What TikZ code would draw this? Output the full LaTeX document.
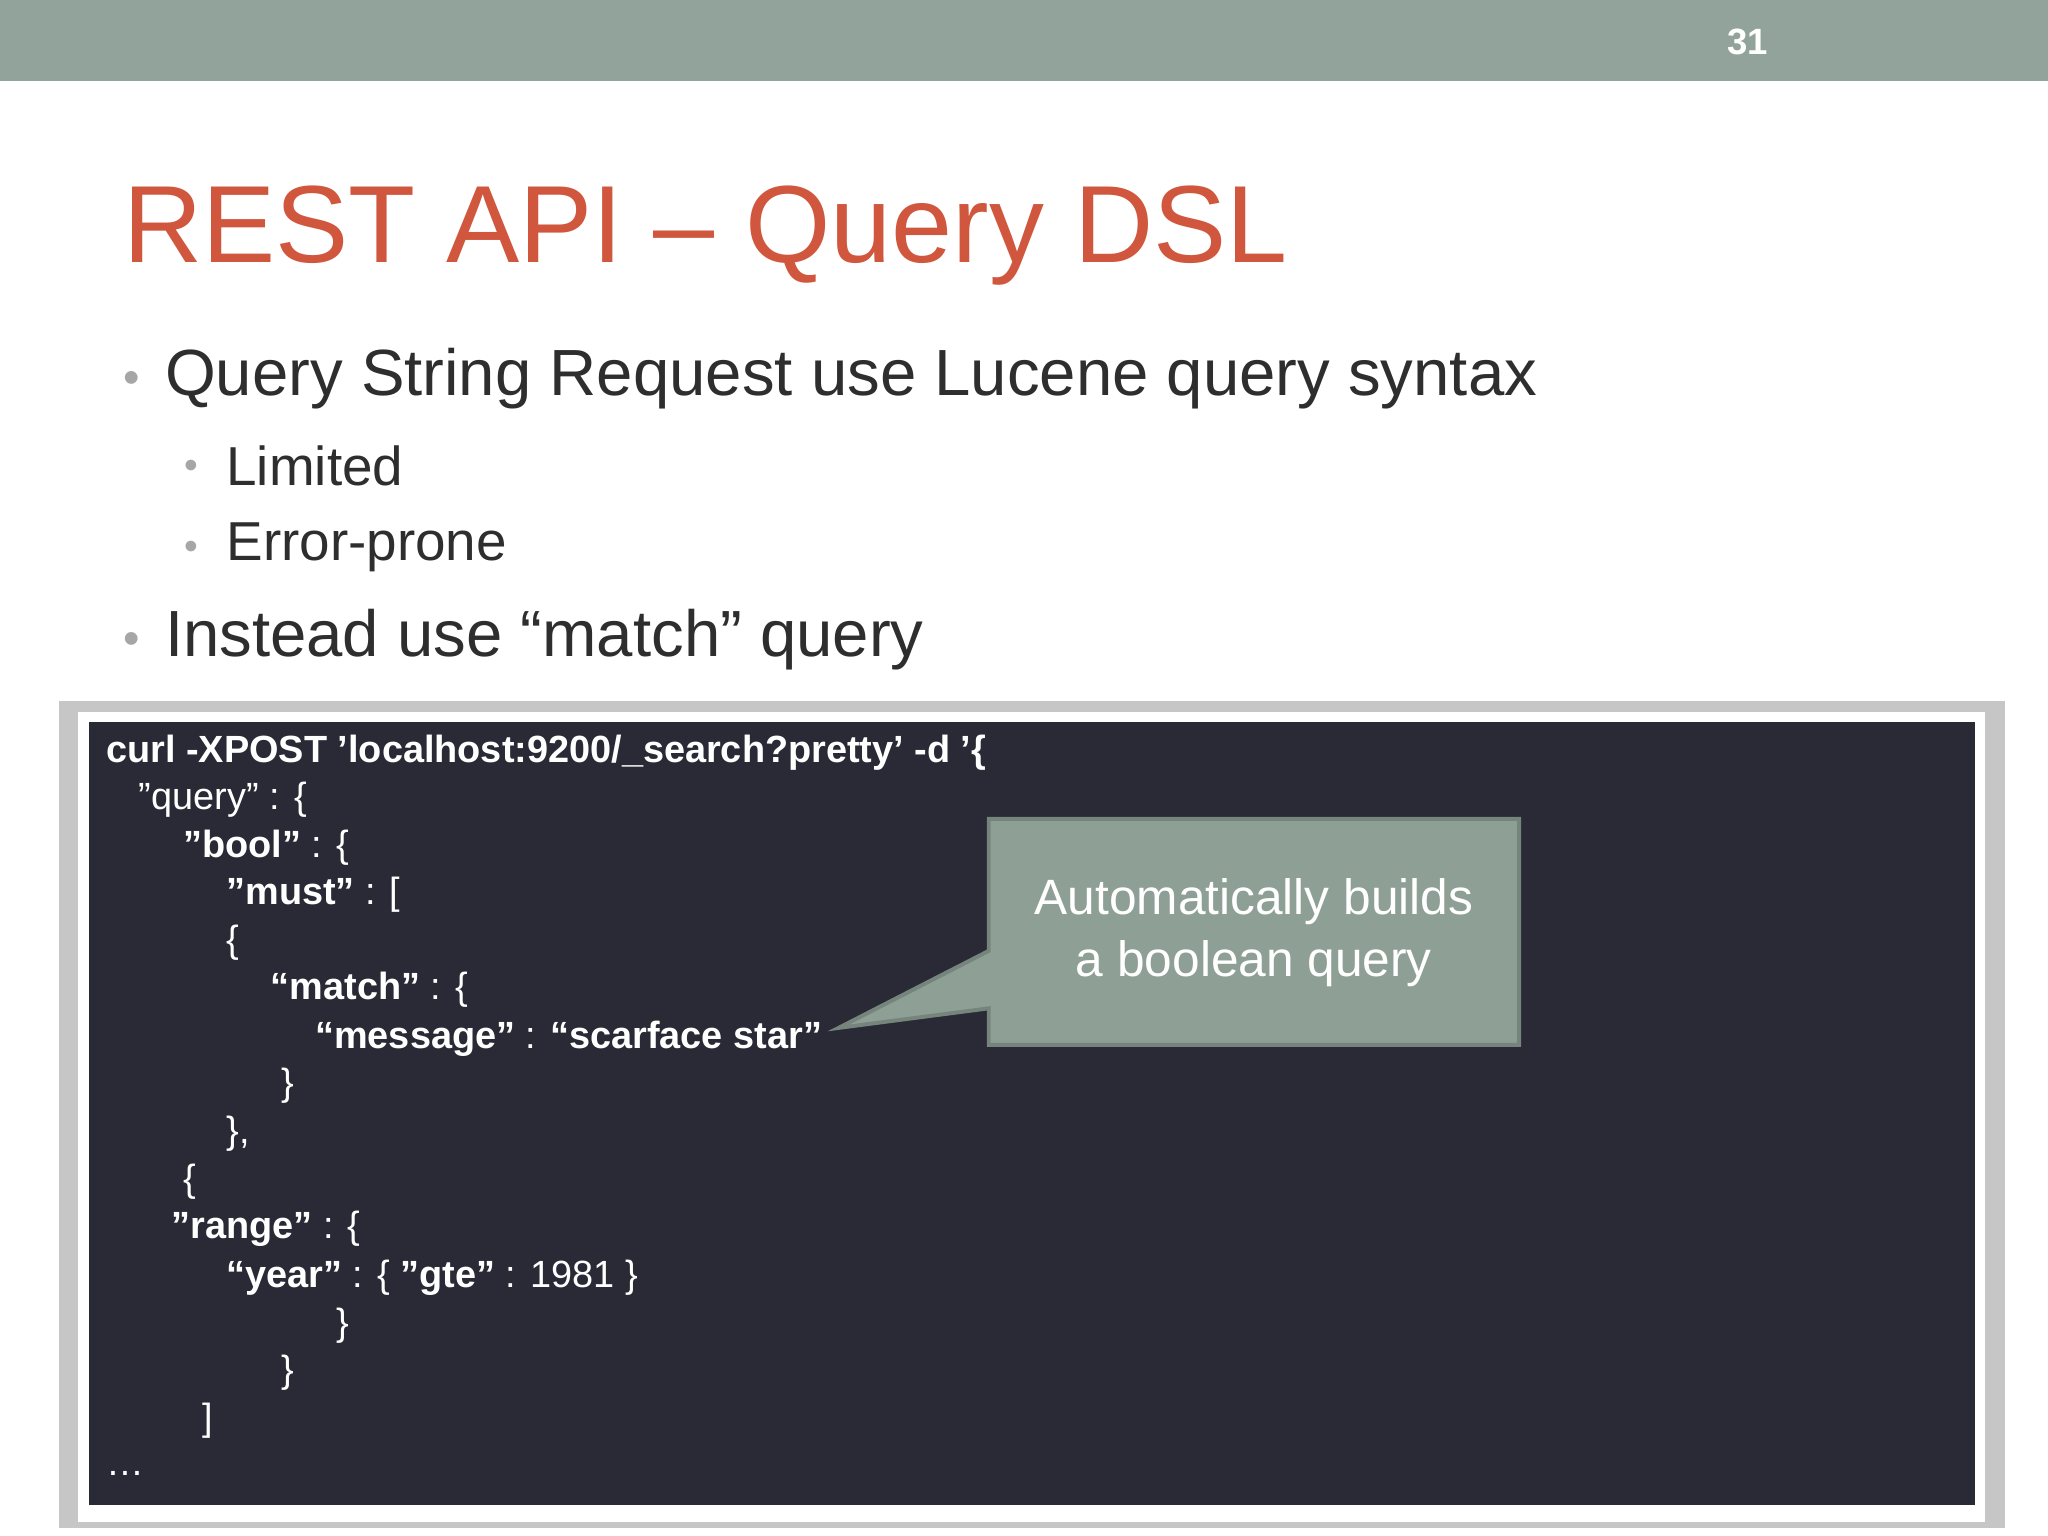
\documentclass[tikz,border=0pt]{standalone}
\usepackage{fontspec}
\setmainfont{Liberation Sans}
\definecolor{bar}{HTML}{91A39A}
\definecolor{ttl}{HTML}{D0573D}
\definecolor{txt}{HTML}{2E2E2E}
\definecolor{codebg}{HTML}{292A35}
\definecolor{call}{HTML}{8E9F95}
\definecolor{callb}{HTML}{75857C}
\tikzset{
  cl/.style={anchor=west,inner sep=0pt,text=white,font=\fontsize{14.5}{16}\selectfont},
  bul/.style={anchor=west,inner sep=0pt,text=txt},
}
\begin{document}
\begin{tikzpicture}[x=0.5pt,y=-0.5pt]
\useasboundingbox (0,0) rectangle (1568,1176);
\fill[white] (0,0) rectangle (1568,1176);
\fill[bar] (0,0) rectangle (1568,62);
\node[text=white,font=\bfseries\fontsize{14}{16}\selectfont] (num) at (1338,32) {31};
\node[anchor=west,inner sep=0pt,text=ttl,font=\fontsize{42}{48}\selectfont] (title) at (94,180) {REST API -- Query DSL};
\node[bul,font=\fontsize{25}{30}\selectfont] (b1) at (126,290) {Query String Request use Lucene query syntax};
\node[bul,text=gray!70,font=\fontsize{18}{20}\selectfont] (d1) at (94,293) {•};
\node[bul,font=\fontsize{21}{24}\selectfont] (s1) at (173,357) {Limited};
\node[bul,text=gray!70,font=\fontsize{15}{18}\selectfont] (d2) at (141,359) {•};
\node[bul,font=\fontsize{21}{24}\selectfont] (s2) at (173,419) {Error-prone};
\node[bul,text=gray!70,font=\fontsize{15}{18}\selectfont] (d3) at (141,421) {•};
\node[bul,font=\fontsize{25}{30}\selectfont] (b2) at (126,490) {Instead use “match” query};
\node[bul,text=gray!70,font=\fontsize{18}{20}\selectfont] (d4) at (94,493) {•};
% code box
\fill[gray!45] (45,537) rectangle (1535,1170);
\fill[white] (60,545) rectangle (1520,1165);
\fill[codebg] (68,553) rectangle (1512,1152);
\node[cl] (l1) at (81,576) {\bfseries curl -XPOST 'localhost:9200/\_search?pretty' -d '\{};
\node[cl] (l2) at (106,612) {"query" : \{};
\node[cl] (l3) at (140,649) {\textbf{"bool"} : \{};
\node[cl] (l4) at (173,685) {\textbf{"must"} : [};
\node[cl] (l5) at (173,722) {\{};
\node[cl] (l6) at (207,758) {\textbf{“match"} : \{};
\node[cl] (l7) at (241,795) {\textbf{“message"} : \textbf{“scarface star"}};
\node[cl] (l8) at (215,831) {\}};
\node[cl] (l9) at (173,868) {\},};
\node[cl] (l10) at (140,905) {\{};
\node[cl] (l11) at (131,941) {\textbf{"range"} : \{};
\node[cl] (l12) at (173,978) {\textbf{“year"} : \{ \textbf{"gte"} : 1981 \}};
\node[cl] (l13) at (257,1015) {\}};
\node[cl] (l14) at (215,1051) {\}};
\node[cl] (l15) at (155,1088) {]};
\node[cl] (l16) at (81,1128) {…};
% callout
\draw[callb,line width=1.5pt,fill=call,line join=miter]
  (757,627) -- (1163,627) -- (1163,800) -- (757,800) -- (757,772) -- (642,787) -- (757,728) -- cycle;
\node[align=center,text=white,font=\fontsize{19}{24}\selectfont] (cap) at (960,714) {Automatically builds\\a boolean query};
\end{tikzpicture}
\end{document}
